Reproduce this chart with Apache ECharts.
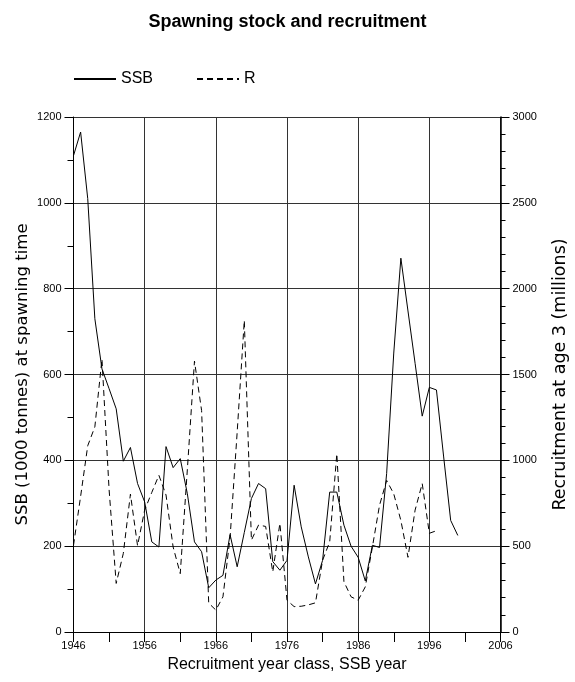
<!DOCTYPE html>
<html>
<head>
<meta charset="utf-8">
<script src="https://cdn.jsdelivr.net/npm/echarts@6/dist/echarts.min.js"></script>
<style>
html,body{margin:0;padding:0;background:#fff;}
#c{width:575px;height:682px;}
</style>
</head>
<body>
<div id="c"></div>
<script>
// Years
var ssbYears = [1946,1947,1948,1949,1950,1951,1952,1953,1954,1955,1956,1957,1958,1959,1960,1961,1962,1963,1964,1965,1966,1967,1968,1969,1970,1971,1972,1973,1974,1975,1976,1977,1978,1979,1980,1981,1982,1983,1984,1985,1986,1987,1988,1989,1990,1991,1992,1993,1994,1995,1996,1997,1998,1999,2000];
// SSB (1000 tonnes)
var ssbValues = [1110,1165,1010,730,613,567,520,398,430,346,303,210,198,432,383,404,322,210,187,103,121,132,227,152,232,311,346,334,164,144,167,342,245,175,112,167,326,326,249,200,174,119,202,197,369,650,871,748,626,503,570,564,410,260,225];
var rYears = [1946,1947,1948,1949,1950,1951,1952,1953,1954,1955,1956,1957,1958,1959,1960,1961,1962,1963,1964,1965,1966,1967,1968,1969,1970,1971,1972,1973,1974,1975,1976,1977,1978,1979,1980,1981,1982,1983,1984,1985,1986,1987,1988,1989,1990,1991,1992,1993,1994,1995,1996,1997];
// Recruitment at age 3 (millions)
var rValues = [505,790,1085,1195,1590,830,283,458,803,503,710,813,913,798,495,340,948,1578,1290,168,128,205,550,1165,1815,535,623,615,350,633,185,148,150,158,170,418,525,1038,293,205,185,263,495,738,883,805,650,435,710,865,575,590];

var xTicks = {min:1946, max:2006, interval:10};
var leftTicks = {min:0, max:1200, interval:200};
var rightTicks = {min:0, max:3000, interval:500};

function pairs(xs, ys){ return xs.map(function(x,i){ return [x, ys[i]]; }); }
function plain(v){ return String(v); }

var chart = echarts.init(document.getElementById('c'), null, {renderer:'canvas'});
var lab = {color:'#000', fontFamily:'Liberation Sans, Arial, sans-serif', fontSize:11, formatter:plain};
var option = {
  backgroundColor:'#fff',
  animation:false,
  title:{
    text:'Spawning stock and recruitment',
    left:'center', top:8,
    textStyle:{color:'#000', fontFamily:'Liberation Sans, Arial, sans-serif', fontWeight:'bold', fontSize:18}
  },
  legend:{
    left:68, top:66, itemWidth:42, itemHeight:14, itemGap:43,
    itemStyle:{opacity:0},
    textStyle:{color:'#000', fontFamily:'Liberation Sans, Arial, sans-serif', fontSize:16},
    data:['SSB','R']
  },
  grid:{left:73.5, right:74.5, top:117, bottom:50, containLabel:false, outerBoundsMode:'none'},
  xAxis:{
    type:'value', min:xTicks.min, max:xTicks.max, interval:xTicks.interval,
    name:'Recruitment year class, SSB year', nameLocation:'middle', nameGap:25, nameMoveOverlap:false,
    nameTextStyle:{color:'#000', fontFamily:'Liberation Sans, Arial, sans-serif', fontSize:16},
    axisLine:{show:true, onZero:false, lineStyle:{color:'#000', width:1}},
    axisTick:{show:true, length:10, lineStyle:{color:'#000'}},
    minorTick:{show:true, splitNumber:2, length:10, lineStyle:{color:'#000'}},
    axisLabel:Object.assign({margin:8}, lab),
    splitLine:{show:true, lineStyle:{color:'#333', width:1}}
  },
  yAxis:[{
    type:'value', position:'left', min:leftTicks.min, max:leftTicks.max, interval:leftTicks.interval,
    name:'SSB (1000 tonnes) at spawning time', nameLocation:'middle', nameGap:42, nameMoveOverlap:false,
    nameTextStyle:{color:'#000', fontFamily:'DejaVu Sans, sans-serif', fontSize:16.5},
    axisLine:{show:true, lineStyle:{color:'#000', width:1}},
    axisTick:{show:true, length:9, lineStyle:{color:'#000'}},
    minorTick:{show:true, splitNumber:2, length:6, lineStyle:{color:'#000'}},
    axisLabel:Object.assign({margin:12}, lab),
    splitLine:{show:true, lineStyle:{color:'#333', width:1}}
  },{
    type:'value', position:'right', min:rightTicks.min, max:rightTicks.max, interval:rightTicks.interval,
    name:'Recruitment at age 3 (millions)', nameLocation:'middle', nameGap:51, nameMoveOverlap:false,
    nameTextStyle:{color:'#000', fontFamily:'DejaVu Sans, sans-serif', fontSize:17.5},
    axisLine:{show:true, lineStyle:{color:'#000', width:1.5}},
    axisTick:{show:true, length:9, lineStyle:{color:'#000'}},
    minorTick:{show:true, splitNumber:5, length:5, lineStyle:{color:'#000'}},
    axisLabel:Object.assign({margin:12}, lab),
    splitLine:{show:false}
  }],
  series:[{
    name:'SSB', type:'line', yAxisIndex:0, symbol:'none', showSymbol:false,
    lineStyle:{color:'#000', width:1, type:'solid'}, itemStyle:{color:'#000'},
    data:pairs(ssbYears, ssbValues)
  },{
    name:'R', type:'line', yAxisIndex:1, symbol:'none', showSymbol:false,
    lineStyle:{color:'#000', width:1, type:[6,4]}, itemStyle:{color:'#000'},
    data:pairs(rYears, rValues)
  }]
};
chart.setOption(option);
</script>
</body>
</html>
